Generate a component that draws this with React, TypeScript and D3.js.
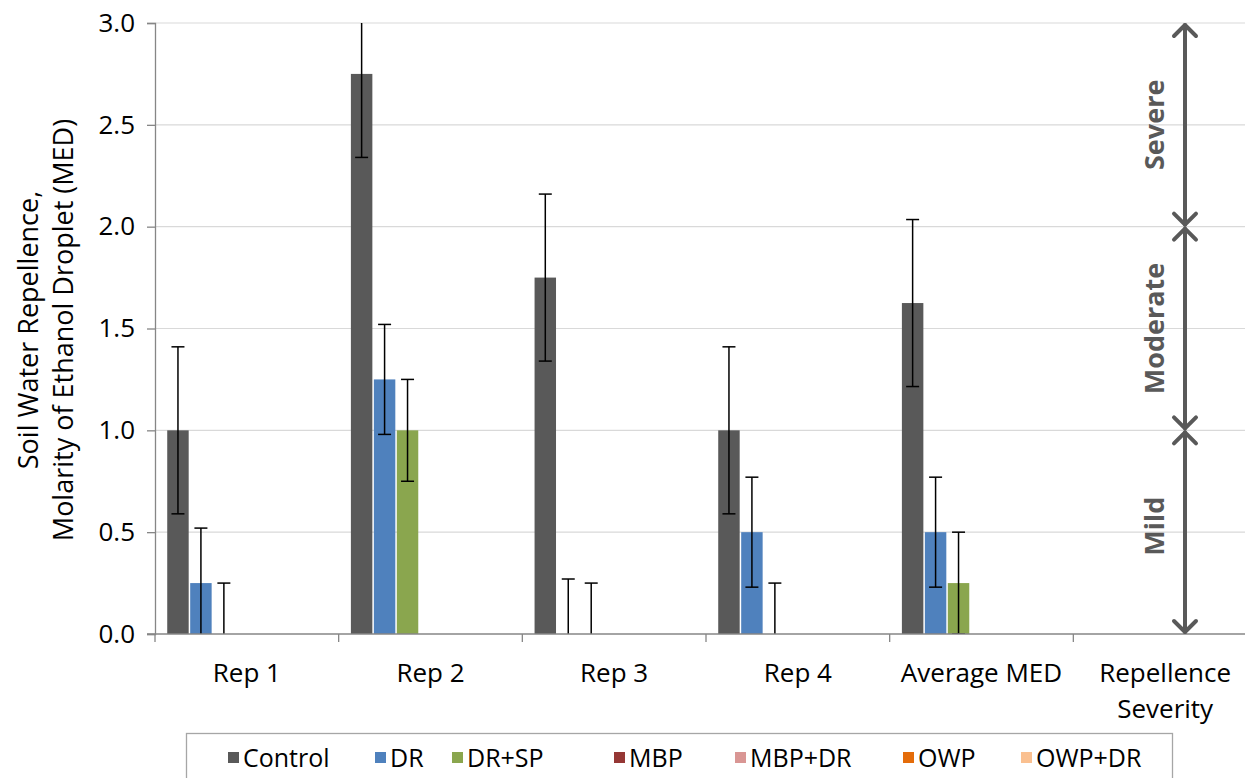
import React, { useEffect, useRef } from 'react';
import * as d3 from 'd3';

const categories = ['Rep 1', 'Rep 2', 'Rep 3', 'Rep 4', 'Average MED', 'Repellence Severity'];
const seriesNames = ['Control', 'DR', 'DR+SP', 'MBP', 'MBP+DR', 'OWP', 'OWP+DR'];
const seriesColors = ['#595959', '#4f81bd', '#8aa64e', '#953735', '#d99694', '#e46c0a', '#fac090'];

const controlVals = [1.0, 2.75, 1.75, 1.0, 1.625, 0];
const drVals = [0.25, 1.25, 0, 0.5, 0.5, 0];
const drSpVals = [0, 1.0, 0, 0, 0.25, 0];
const mbpVals = [0, 0, 0, 0, 0, 0];
const mbpDrVals = [0, 0, 0, 0, 0, 0];
const owpVals = [0, 0, 0, 0, 0, 0];
const owpDrVals = [0, 0, 0, 0, 0, 0];

// error bar half-widths, only the first three series have them
const controlErr = [0.41, 0.41, 0.41, 0.41, 0.41, null];
const drErr = [0.27, 0.27, 0.27, 0.27, 0.27, null];
const drSpErr = [0.25, 0.25, 0.25, 0.25, 0.25, null];

const yTicks = [0, 0.5, 1.0, 1.5, 2.0, 2.5, 3.0];
const severityBands = [
  { label: 'Severe', from: 2, to: 3 },
  { label: 'Moderate', from: 1, to: 2 },
  { label: 'Mild', from: 0, to: 1 },
];

const seriesVals = [controlVals, drVals, drSpVals, mbpVals, mbpDrVals, owpVals, owpDrVals];
const seriesErr = [controlErr, drErr, drSpErr, null, null, null, null];

const FONT = '"Open Sans", sans-serif';

export default function App() {
  const svgRef = useRef<SVGSVGElement>(null);

  useEffect(() => {
    document.body.style.margin = '0';
    const W = 1245, H = 778;
    const m = { left: 155, top: 23, right: 1257, bottom: 634 };

    const svg = d3.select(svgRef.current)
      .attr('width', W)
      .attr('height', H)
      .style('display', 'block')
      .style('background', '#fff');
    svg.selectAll('*').remove();

    const x0 = d3.scaleBand().domain(categories).range([m.left, m.right]).paddingInner(0).paddingOuter(0);
    const x1 = d3.scaleBand().domain(seriesNames).range([0, x0.bandwidth()]).paddingInner(0).paddingOuter(0.5);
    const y = d3.scaleLinear().domain([0, 3]).range([m.bottom, m.top]);

    svg.append('defs').append('clipPath').attr('id', 'plotclip')
      .append('rect')
      .attr('x', m.left).attr('y', m.top)
      .attr('width', m.right - m.left).attr('height', m.bottom - m.top);

    // gridlines
    svg.append('g').selectAll('line')
      .data(yTicks.filter(t => t > 0))
      .join('line')
      .attr('x1', m.left).attr('x2', m.right)
      .attr('y1', d => y(d)).attr('y2', d => y(d))
      .attr('stroke', '#d9d9d9').attr('stroke-width', 1.2);

    // y axis
    const yAxis = d3.axisLeft(y).tickValues(yTicks).tickFormat(d3.format('.1f')).tickSize(8).tickPadding(12);
    const gy = svg.append('g').attr('transform', `translate(${m.left},0)`).call(yAxis);
    gy.select('.domain').attr('stroke', '#868686').attr('stroke-width', 1.3);
    gy.selectAll('.tick line').attr('stroke', '#868686').attr('stroke-width', 1.3);
    gy.selectAll('.tick text').attr('font-family', FONT).attr('font-size', 26).attr('fill', '#000');

    // bars
    const plot = svg.append('g').attr('clip-path', 'url(#plotclip)');
    seriesNames.forEach((s, si) => {
      plot.append('g').selectAll('rect')
        .data(seriesVals[si].map((v, ci) => ({ v, c: categories[ci] })))
        .join('rect')
        .attr('x', d => (x0(d.c) as number) + (x1(s) as number) + 0.75)
        .attr('width', x1.bandwidth() - 1.5)
        .attr('y', d => y(d.v))
        .attr('height', d => y(0) - y(d.v))
        .attr('fill', seriesColors[si]);
    });

    // error bars
    seriesNames.forEach((s, si) => {
      const errs = seriesErr[si];
      if (!errs) return;
      seriesVals[si].forEach((v, ci) => {
        const e = errs[ci];
        if (e == null) return;
        const cx = (x0(categories[ci]) as number) + (x1(s) as number) + x1.bandwidth() / 2;
        const g = plot.append('g').attr('stroke', '#000').attr('stroke-width', 1.5);
        g.append('line').attr('x1', cx).attr('x2', cx).attr('y1', y(v + e)).attr('y2', y(v - e));
        [v + e, v - e].forEach(t => {
          g.append('line').attr('x1', cx - 6.5).attr('x2', cx + 6.5).attr('y1', y(t)).attr('y2', y(t));
        });
      });
    });

    // x axis
    const xa = svg.append('g');
    xa.append('line').attr('x1', m.left - 8).attr('x2', m.right).attr('y1', y(0)).attr('y2', y(0))
      .attr('stroke', '#868686').attr('stroke-width', 1.3);
    xa.selectAll('line.tk')
      .data([...categories.map(c => x0(c) as number), m.right])
      .join('line').attr('class', 'tk')
      .attr('x1', d => d).attr('x2', d => d)
      .attr('y1', y(0)).attr('y2', y(0) + 8)
      .attr('stroke', '#868686').attr('stroke-width', 1.3);
    categories.forEach(c => {
      const words = c === 'Repellence Severity' ? ['Repellence', 'Severity'] : [c];
      const cx = (x0(c) as number) + x0.bandwidth() / 2;
      const t = xa.append('text')
        .attr('y', 682)
        .attr('text-anchor', 'middle')
        .attr('font-family', FONT).attr('font-size', 26).attr('fill', '#000');
      words.forEach((w, i) => {
        t.append('tspan').attr('x', cx).attr('dy', i === 0 ? 0 : 36).text(w);
      });
    });

    // y title
    const yt = svg.append('text')
      .attr('transform', `translate(0,330) rotate(-90)`)
      .attr('text-anchor', 'middle')
      .attr('font-family', FONT).attr('font-size', 27).attr('fill', '#000');
    yt.append('tspan').attr('x', 0).attr('y', 38).text('Soil Water Repellence,');
    yt.append('tspan').attr('x', 0).attr('y', 73).text('Molarity of Ethanol Droplet (MED)');

    // severity arrows
    const ax = 1185;
    const sev = svg.append('g');
    severityBands.forEach(b => {
      const top = y(b.to), bot = y(b.from);
      const g = sev.append('g').attr('stroke', '#595959').attr('stroke-width', 4).attr('fill', 'none')
        .attr('stroke-linecap', 'round').attr('stroke-linejoin', 'round');
      g.append('line').attr('x1', ax).attr('x2', ax).attr('y1', top + 2).attr('y2', bot - 2);
      g.append('path').attr('d', `M${ax - 11},${top + 13}L${ax},${top + 2}L${ax + 11},${top + 13}`);
      g.append('path').attr('d', `M${ax - 11},${bot - 13}L${ax},${bot - 2}L${ax + 11},${bot - 13}`);
      sev.append('text')
        .attr('transform', `translate(1164,${y((b.from + b.to) / 2) - (b.label === 'Mild' ? 6 : 0)}) rotate(-90)`)
        .attr('text-anchor', 'middle')
        .attr('font-family', FONT).attr('font-size', 27).attr('font-weight', 'bold')
        .attr('fill', '#595959')
        .text(b.label);
    });

    // legend
    const lg = svg.append('g');
    lg.append('rect').attr('x', 186.5).attr('y', 733.5).attr('width', 986).attr('height', 60)
      .attr('fill', '#fff').attr('stroke', '#a6a6a6').attr('stroke-width', 1.3);
    const legendX = [228, 375, 452, 614, 735, 903, 1021];
    seriesNames.forEach((s, i) => {
      lg.append('rect').attr('x', legendX[i]).attr('y', 752).attr('width', 11).attr('height', 11)
        .attr('fill', seriesColors[i]);
      lg.append('text').attr('x', legendX[i] + 15).attr('y', 767)
        .attr('font-family', FONT).attr('font-size', 25).attr('fill', '#000')
        .text(s);
    });
  }, []);

  return <svg ref={svgRef}></svg>;
}
